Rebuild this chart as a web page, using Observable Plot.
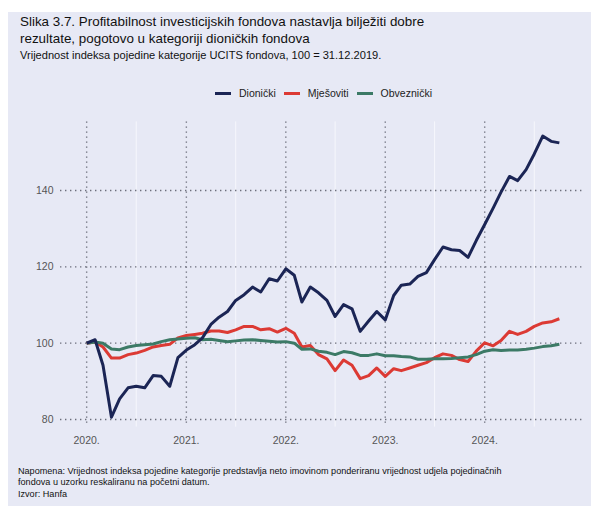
<!DOCTYPE html>
<html><head><meta charset="utf-8">
<script src="https://cdn.jsdelivr.net/npm/d3@7"></script>
<script src="https://cdn.jsdelivr.net/npm/@observablehq/plot@0.6"></script>
<style>
body{margin:0;background:#fff;font-family:"Liberation Sans",Arial,sans-serif;width:591px;height:506px;overflow:hidden;position:relative;}
#panel{position:absolute;left:8px;top:12px;width:583px;height:494px;background:#e7e9f5;}
#title{position:absolute;left:20px;top:13px;font-size:13.4px;line-height:17px;color:#111;}
#subtitle{position:absolute;left:20px;top:49px;font-size:11.1px;color:#111;}
#legend{position:absolute;left:215px;top:87px;font-size:10.5px;color:#222;display:flex;align-items:center;white-space:nowrap;}
#legend span.sw{display:inline-block;width:16px;height:3px;margin-right:8px;}
#legend span.lab{margin-right:8px;}
#chart{position:absolute;left:0;top:0;}
#note{position:absolute;left:18px;top:466px;font-size:9.1px;line-height:11.3px;color:#111;}
</style>
</head><body>
<div id="panel"></div>
<div id="title">Slika 3.7. Profitabilnost investicijskih fondova nastavlja bilježiti dobre<br>rezultate, pogotovo u kategoriji dioničkih fondova</div>
<div id="subtitle">Vrijednost indeksa pojedine kategorije UCITS fondova, 100 = 31.12.2019.</div>
<div id="legend"></div>
<div id="chart"></div>
<div id="note">Napomena: Vrijednost indeksa pojedine kategorije predstavlja neto imovinom ponderiranu vrijednost udjela pojedinačnih<br>fondova u uzorku reskaliranu na početni datum.<br>Izvor: Hanfa</div>
<script>
const seriesNames = ["Dionički", "Mješoviti", "Obveznički"];
const seriesColors = ["#1b2555", "#dc3a34", "#3c7a66"];
const startMonth = "2020-01-01"; // point 0 = 31.12.2019, then monthly
const yTicks = [80, 100, 120, 140];
const yearTicks = ["2020-01-01", "2021-01-01", "2022-01-01", "2023-01-01", "2024-01-01"];

const dionicki = [100, 100.9, 94.2, 80.6, 85.4, 88.3, 88.7, 88.3, 91.5, 91.3, 88.7, 96.2, 98.2, 99.6, 101.4, 104.9, 106.8, 108.3, 111.2, 112.7, 114.7, 113.4, 116.9, 116.3, 119.5, 117.8, 110.8, 114.7, 113.2, 111.2, 107, 110.1, 109, 103.1, 105.8, 108.3, 106.1, 112.5, 115.2, 115.5, 117.5, 118.5, 121.9, 125.2, 124.5, 124.3, 122.5, 126.9, 131.1, 135.4, 139.6, 143.7, 142.6, 145.5, 149.6, 154.3, 152.9, 152.5];
const mjesoviti = [100, 100.3, 99, 96.1, 96.1, 97, 97.4, 98.1, 99, 99.4, 99.7, 101.4, 102, 102.3, 102.6, 103.2, 103.2, 102.8, 103.5, 104.4, 104.4, 103.5, 103.8, 102.9, 103.9, 102.6, 99, 99.4, 97, 95.9, 92.8, 95.6, 94.2, 90.7, 91.5, 93.5, 91.3, 93.3, 92.8, 93.5, 94.2, 94.9, 96.2, 97.2, 96.8, 95.7, 95.2, 97.9, 100.1, 99.3, 100.7, 103.1, 102.3, 103.1, 104.4, 105.3, 105.6, 106.4];
const obveznicki = [100, 100.3, 100, 98.5, 98.3, 99, 99.4, 99.6, 99.8, 100.4, 100.9, 101.1, 101.3, 101.4, 100.9, 101, 100.7, 100.4, 100.6, 100.8, 100.9, 100.7, 100.5, 100.3, 100.4, 100, 98.4, 98.5, 97.9, 97.6, 97, 97.8, 97.5, 96.8, 96.8, 97.2, 96.7, 96.7, 96.5, 96.4, 95.8, 95.8, 95.9, 95.9, 96, 96.2, 96.4, 97, 97.9, 98.3, 98.1, 98.2, 98.2, 98.4, 98.7, 99.1, 99.3, 99.7];

const allSeries = [dionicki, mjesoviti, obveznicki];
const start = new Date(startMonth);
const rows = [];
allSeries.forEach((vals, s) => {
  vals.forEach((v, i) => rows.push({series: seriesNames[s], date: d3.utcMonth.offset(start, i), value: v}));
});
const drawOrder = ["Mješoviti", "Obveznički", "Dionički"];
const ordered = drawOrder.flatMap(n => rows.filter(r => r.series === n));

const years = yearTicks.map(d => new Date(d));
const midYears = [2020, 2021, 2022, 2023, 2024].map(y => new Date(Date.UTC(y, 6, 1)));

const chart = Plot.plot({
  width: 591,
  height: 506,
  marginLeft: 60,
  marginRight: 9,
  marginTop: 121.4,
  marginBottom: 79.4,
  style: {background: "transparent", fontFamily: "Liberation Sans, Arial, sans-serif", fontSize: "10.5px", color: "#555"},
  x: {type: "utc", domain: [new Date("2019-09-27"), new Date("2024-12-25")], ticks: years, tickFormat: d => d.getUTCFullYear() + ".", tickSize: 0, tickPadding: 9, label: null},
  y: {domain: [78, 158], ticks: yTicks, tickSize: 0, tickPadding: 7, label: null},
  color: {domain: seriesNames, range: seriesColors},
  marks: [
    Plot.ruleX(midYears, {stroke: "#f6f7fc", strokeWidth: 1}),
    Plot.gridY(yTicks, {stroke: "#6d6f7c", strokeOpacity: 1, strokeWidth: 1.4, strokeDasharray: "1.4,3.6"}),
    Plot.gridX(years, {stroke: "#6d6f7c", strokeOpacity: 1, strokeWidth: 1.4, strokeDasharray: "1.4,3.6"}),
    Plot.axisY(yTicks, {tickSize: 0, tickPadding: 7, fill: "#555"}),
    Plot.axisX(years, {tickSize: 0, tickPadding: 9, fill: "#555", tickFormat: d => d.getUTCFullYear() + "."}),
    Plot.line(ordered, {x: "date", y: "value", z: "series", stroke: "series", strokeWidth: 3, strokeLinejoin: "round", strokeLinecap: "butt"})
  ]
});
document.getElementById("chart").appendChild(chart);

const leg = document.getElementById("legend");
seriesNames.forEach((n, i) => {
  const sw = document.createElement("span"); sw.className = "sw"; sw.style.background = seriesColors[i];
  const lab = document.createElement("span"); lab.className = "lab"; lab.textContent = n;
  leg.appendChild(sw); leg.appendChild(lab);
});
</script>
</body></html>
